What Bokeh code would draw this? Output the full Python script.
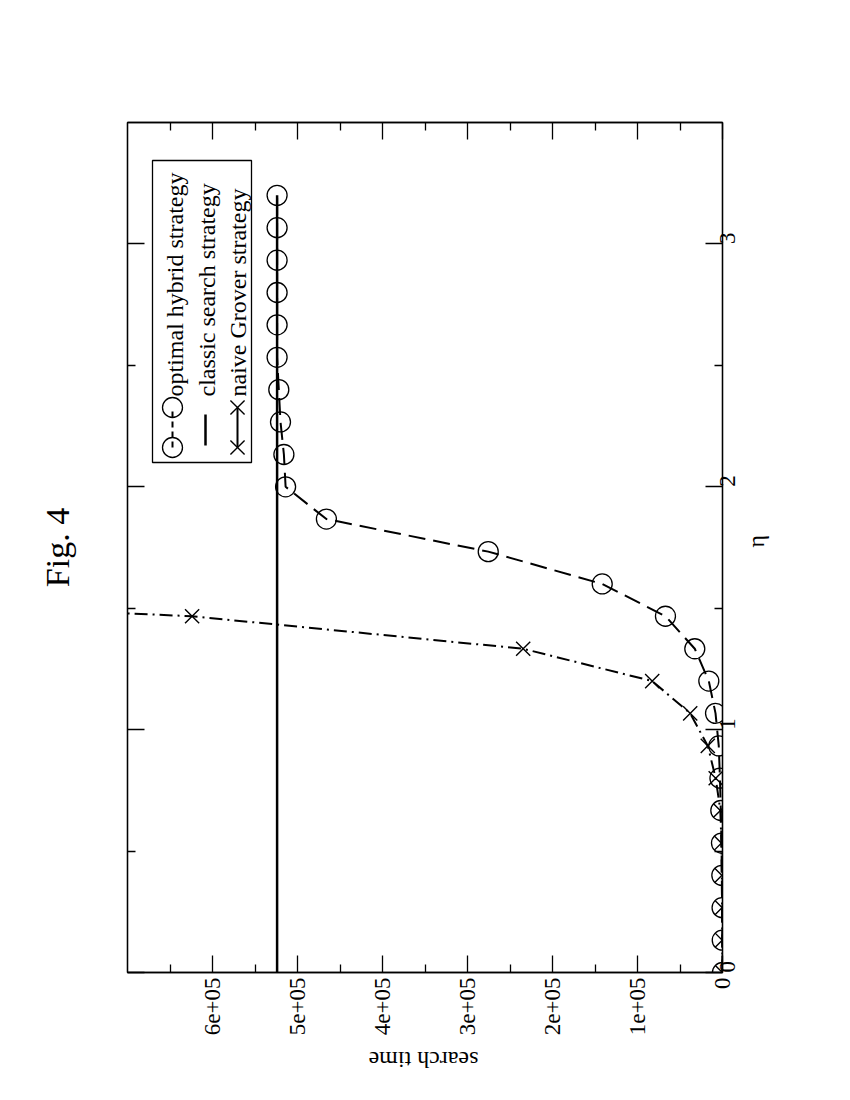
import math
from bokeh.plotting import figure
from bokeh.models import Range1d, LinearAxis, FixedTicker, Label, BoxAnnotation
from bokeh.embed import file_html
from bokeh.resources import INLINE

# ---------------- data ----------------
eta = [0.0, 0.133, 0.267, 0.4, 0.533, 0.667, 0.8, 0.933, 1.067, 1.2, 1.333, 1.467, 1.6,
       1.733, 1.867, 2.0, 2.133, 2.267, 2.4, 2.533, 2.667, 2.8, 2.933, 3.067, 3.2]
optimal_time = [100, 300, 500, 800, 1200, 2000, 3000, 4400, 8200, 16100, 32600, 67100, 141500,
                275600, 466000, 514000, 516000, 520000, 522000, 524000, 524000, 524000, 524000, 524000, 524000]
classic_time = [524000, 524000, 524000, 524000, 524000, 524000, 524000, 524000, 524000, 524000,
                524000, 524000, 524000, 524000, 524000, 524000, 524000, 524000, 524000, 524000,
                524000, 524000, 524000, 524000, 524000]
grover_eta = [0.0, 0.133, 0.267, 0.4, 0.533, 0.667, 0.8, 0.933, 1.067, 1.2, 1.333, 1.467, 1.6]
grover_time = [100, 300, 500, 800, 1300, 2500, 8000, 17300, 38000, 82700, 234500, 624000, 1500000]

t_ticks = [0, 100000, 200000, 300000, 400000, 500000, 600000]
t_tick_labels = ["0", "1e+05", "2e+05", "3e+05", "4e+05", "5e+05", "6e+05"]
t_minor = [50000, 150000, 250000, 350000, 450000, 550000, 650000]
eta_ticks = [0, 1, 2, 3]
eta_tick_labels = ["0", "1", "2", "3"]
eta_minor = [0.5, 1.5, 2.5]

legend_labels = ["optimal hybrid strategy", "classic search strategy", "naive Grover strategy"]
title_text = "Fig. 4"
x_title = "search time"
y_title = "η"

# ---------------- layout constants ----------------
T_MAX = 700000
ETA_MAX = 3.5
FL, FT, FW, FH = 127, 122, 595, 850   # frame position on the page (px)
FONT = "Liberation Serif"


def to_data(px, py):
    """page pixel -> data coordinates (x axis is reversed: 0 on the right)."""
    t = T_MAX * (FL + FW - px) / FW
    e = ETA_MAX * (FT + FH - py) / FH
    return t, e


p = figure(frame_width=FW, frame_height=FH,
           x_range=Range1d(T_MAX, 0), y_range=Range1d(0, ETA_MAX),
           x_axis_location="below", y_axis_location="right",
           output_backend="svg", toolbar_location=None,
           min_border_left=FL, min_border_top=FT,
           min_border_right=100, min_border_bottom=118)
p.xgrid.visible = False
p.ygrid.visible = False
p.outline_line_color = "black"
p.outline_line_width = 1.3
p.background_fill_color = "white"
p.border_fill_color = "white"


def style_axis(ax, ticks, minor, labels):
    ax.ticker = FixedTicker(ticks=ticks, minor_ticks=minor)
    ax.major_tick_in = 17
    ax.major_tick_out = 0
    ax.minor_tick_in = 8
    ax.minor_tick_out = 0
    ax.major_tick_line_color = "black"
    ax.minor_tick_line_color = "black"
    ax.major_tick_line_width = 1.3
    ax.minor_tick_line_width = 1.3
    ax.axis_line_color = "black"
    ax.axis_line_width = 1.3
    ax.major_label_text_font = FONT
    ax.major_label_text_color = "black"
    ax.major_label_orientation = math.pi / 2
    ax.major_label_overrides = dict(zip(ticks, labels))
    ax.axis_label_text_font = FONT
    ax.axis_label_text_font_style = "normal"
    ax.axis_label_text_color = "black"
    if any(labels):
        ax.major_label_text_font_size = "23px"
        ax.major_label_standoff = 5
    else:
        ax.major_label_text_font_size = "1px"
        ax.major_label_standoff = 0


xa = p.xaxis[0]
style_axis(xa, t_ticks, t_minor, t_tick_labels)

ya = p.yaxis[0]
style_axis(ya, eta_ticks, eta_minor, eta_tick_labels)
ya.axis_label = y_title
ya.axis_label_text_font_size = "24px"
ya.axis_label_standoff = 10
ya.axis_label_orientation = math.pi / 2

top_axis = LinearAxis()
style_axis(top_axis, t_ticks, t_minor, [""] * len(t_ticks))
p.add_layout(top_axis, "above")

left_axis = LinearAxis()
style_axis(left_axis, eta_ticks, eta_minor, [""] * len(eta_ticks))
left_axis.axis_label = title_text
left_axis.axis_label_text_font_size = "34px"
left_axis.axis_label_standoff = 52
p.add_layout(left_axis, "left")

# caption axis for the upside-down "search time": one invisible tick that carries
# the caption as its label (rotated by 180 degrees like the rest of the page)
anchor_t = to_data(368, 0)[0]
cap_axis = LinearAxis()
style_axis(cap_axis, [anchor_t], [], [x_title])
cap_axis.axis_line_color = None
cap_axis.major_tick_line_color = None
cap_axis.minor_tick_line_color = None
cap_axis.major_label_text_font_size = "24px"
cap_axis.major_label_orientation = math.pi
cap_axis.major_label_standoff = 21
p.add_layout(cap_axis, "below")

# ---------------- series ----------------
p.line(optimal_time, eta, line_color="black", line_width=2, line_dash="17 8")
p.scatter(optimal_time, eta, marker="circle", size=20, fill_color=None,
          line_color="black", line_width=1.3)
p.line(classic_time, eta, line_color="black", line_width=2.5)
p.line(grover_time, grover_eta, line_color="black", line_width=2, line_dash="13 5 2 5")
p.scatter(grover_time, grover_eta, marker="x", size=20, line_color="black", line_width=1.4)

# ---------------- rotated legend ----------------
bl, bt = to_data(152, 160)
br, bb = to_data(251, 462)
p.add_layout(BoxAnnotation(left=bl, right=br, top=bt, bottom=bb,
                           fill_color=None, line_color="black", line_alpha=1.0,
                           line_width=1.3))
rows_x = [172, 205, 237]
s0 = to_data(rows_x[0], 447)
s1 = to_data(rows_x[0], 407)
p.line([s0[0], s1[0]], [s0[1], s1[1]], line_color="black", line_width=2, line_dash="6 4")
p.scatter([s0[0], s1[0]], [s0[1], s1[1]], marker="circle", size=20, fill_color=None,
          line_color="black", line_width=1.3)
c0 = to_data(rows_x[1], 445)
c1 = to_data(rows_x[1], 414)
p.line([c0[0], c1[0]], [c0[1], c1[1]], line_color="black", line_width=2.5)
g0 = to_data(rows_x[2], 447)
g1 = to_data(rows_x[2], 407)
p.line([g0[0], g1[0]], [g0[1], g1[1]], line_color="black", line_width=2)
p.scatter([g0[0], g1[0]], [g0[1], g1[1]], marker="x", size=20, line_color="black", line_width=1.4)

for lx, txt in zip([174, 206, 237], legend_labels):
    tx, ty = to_data(lx, 396)
    p.add_layout(Label(x=tx, y=ty, text=txt, angle=math.pi / 2,
                       text_align="left", text_baseline="middle",
                       text_font=FONT, text_font_size="24px", text_color="black"))

open("out.html", "w").write(file_html(p, INLINE))
